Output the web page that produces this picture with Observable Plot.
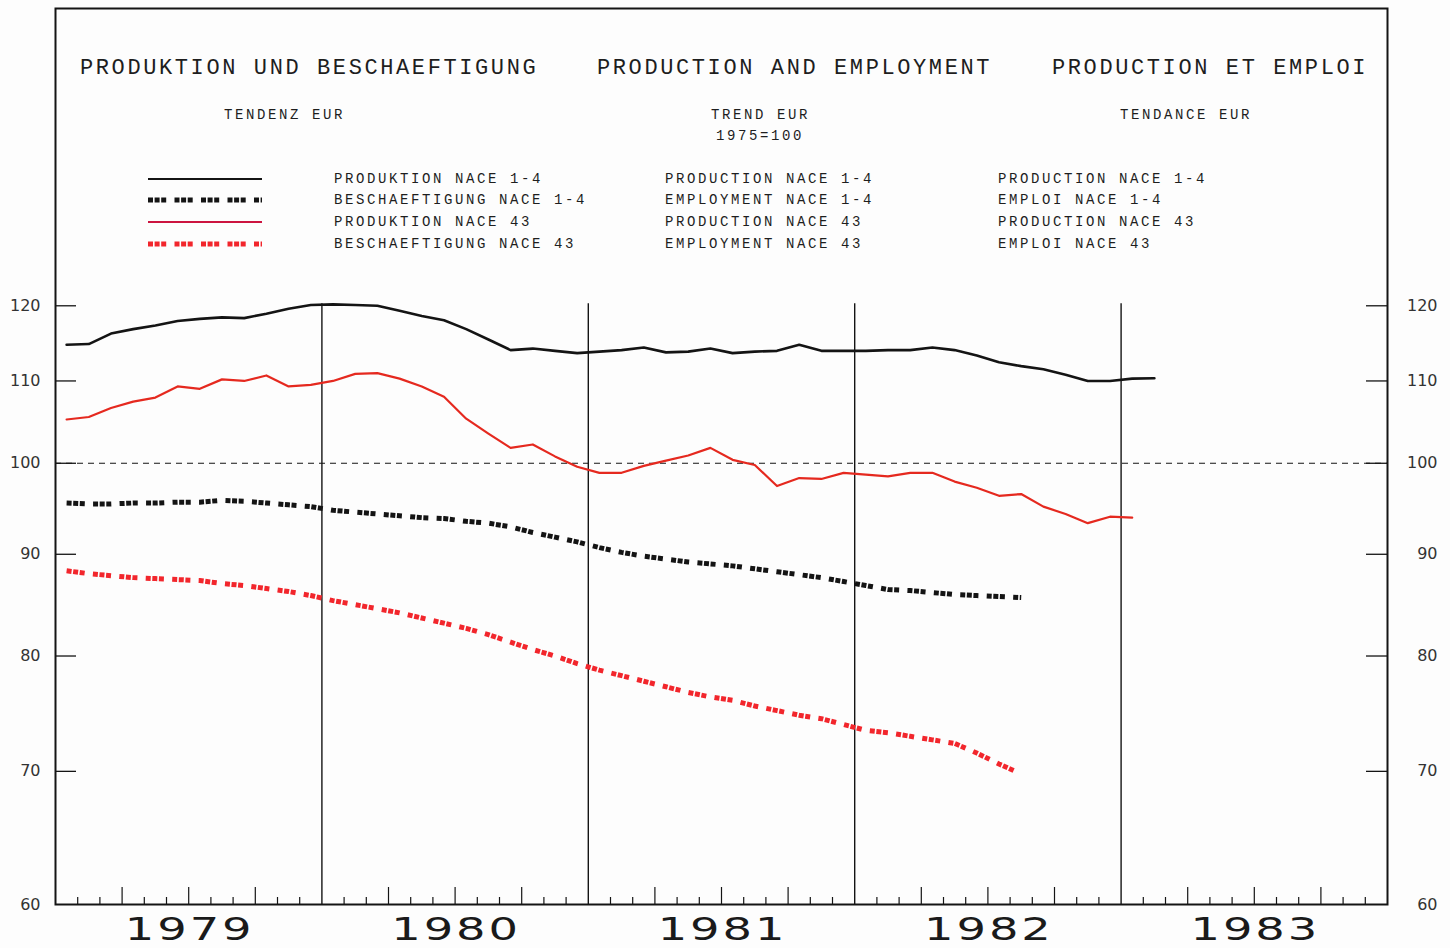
<!DOCTYPE html>
<html>
<head>
<meta charset="utf-8">
<script src="https://cdn.jsdelivr.net/npm/d3@7"></script>
<script src="https://cdn.jsdelivr.net/npm/@observablehq/plot@0.6"></script>
<style>
  html, body { margin: 0; padding: 0; background: #ffffff; }
  #wrap { position: relative; width: 1450px; height: 948px; overflow: hidden; background: #fdfdfd; }
  #chart svg { display: block; }
  .lbl { position: absolute; white-space: pre; color: #1e1e1e;
         font-family: 'Liberation Mono', 'DejaVu Sans Mono', monospace; transform: translateY(-50%); }
  .big { font-size: 22px; letter-spacing: 2.6px; line-height: 22px; }
  .small { font-size: 14px; letter-spacing: 2.6px; line-height: 14px; }
  #legend { position: absolute; left: 0; top: 0; }
</style>
</head>
<body>
<div id="wrap">
  <div id="chart"></div>
  <svg id="legend" width="1450" height="260"></svg>
</div>
<script>
// ---------------- DATA (monthly, Jan 1979 onward; 1975 = 100) ----------------
const startYear = 1979;
const yearLabels = [1979, 1980, 1981, 1982, 1983];
const yearBoundaries = [1980, 1981, 1982, 1983];
const yTicks = [60, 70, 80, 90, 100, 110, 120];

// PRODUKTION NACE 1-4 (Jan 1979 .. Feb 1983)
const prodNace14 = [
  114.7, 114.8, 116.2, 116.8, 117.3, 117.9, 118.2, 118.4, 118.3, 118.9, 119.6, 120.1,
  120.2, 120.1, 120.0, 119.3, 118.6, 118.0, 116.8, 115.4, 114.0, 114.2, 113.9, 113.6,
  113.8, 114.0, 114.35, 113.7, 113.8, 114.2, 113.6, 113.8, 113.9, 114.7, 113.9, 113.9,
  113.9, 114.0, 114.0, 114.35, 114.0, 113.3, 112.4, 111.9, 111.5, 110.8, 110.0, 110.0,
  110.3, 110.35
];
// BESCHAEFTIGUNG NACE 1-4 (Jan 1979 .. Aug 1982)
const emplNace14 = [
  95.5, 95.4, 95.4, 95.5, 95.5, 95.6, 95.6, 95.8, 95.7, 95.5, 95.3, 95.1,
  94.7, 94.5, 94.3, 94.1, 93.9, 93.8, 93.5, 93.3, 92.9, 92.3, 91.8, 91.3,
  90.7, 90.2, 89.8, 89.5, 89.2, 89.0, 88.8, 88.5, 88.2, 87.9, 87.6, 87.2,
  86.8, 86.4, 86.3, 86.1, 85.9, 85.8, 85.7, 85.6
];
// PRODUKTION NACE 43 (Jan 1979 .. Jan 1983)
const prodNace43 = [
  105.2, 105.5, 106.6, 107.4, 107.9, 109.3, 109.0, 110.2, 110.0, 110.7, 109.3, 109.5,
  110.0, 110.9, 111.0, 110.3, 109.3, 108.0, 105.3, 103.5, 101.8, 102.2, 100.8, 99.6,
  98.9, 98.9, 99.7, 100.3, 100.9, 101.8, 100.4, 99.8, 97.4, 98.3, 98.2, 98.9,
  98.7, 98.5, 98.9, 98.9, 97.9, 97.2, 96.3, 96.5, 95.1, 94.3, 93.3, 94.0,
  93.9
];
// BESCHAEFTIGUNG NACE 43 (Jan 1979 .. Aug 1982)
const emplNace43 = [
  88.3, 88.0, 87.8, 87.6, 87.5, 87.4, 87.3, 87.0, 86.8, 86.5, 86.2, 85.8,
  85.3, 84.9, 84.5, 84.1, 83.6, 83.1, 82.6, 82.0, 81.3, 80.6, 80.0, 79.3,
  78.7, 78.2, 77.7, 77.2, 76.7, 76.3, 76.0, 75.5, 75.1, 74.7, 74.4, 73.9,
  73.4, 73.2, 72.9, 72.6, 72.3, 71.5, 70.6, 69.8
];

// ---------------- helpers ----------------
const toSeries = arr => arr.map((v, i) => ({t: startYear + (i + 0.5) / 12, v}));
const monthTicks = d3.range(1, 60).filter(i => i % 12 !== 0).map(i => ({t: startYear + i / 12, q: i % 3 === 0}));

const W = 1450, H = 948;
const mL = 55, mR = 63, mT = 8, mB = 44;
const plotW = W - mL - mR, plotH = H - mT - mB;

const BLACK = "#141414";
const RED = "#e5291f";
const RED_DASH = "#f2262c";
const CRIMSON = "#cc1440";
const numFont = "'DejaVu Sans', Verdana, sans-serif";
const dashPattern = "5,1.6,5,1.6,5,8.3";

const chart = Plot.plot({
  width: W, height: H,
  marginLeft: mL, marginRight: mR, marginTop: mT, marginBottom: mB,
  style: {background: "transparent", overflow: "visible"},
  x: {domain: [startYear, 1984], axis: null},
  y: {type: "log", domain: [60, 169.3], axis: null},
  marks: [
    // reference line at 100
    Plot.ruleY([100], {stroke: BLACK, strokeWidth: 1.1, strokeDasharray: "6,5"}),
    // year boundaries
    Plot.ruleX(yearBoundaries, {y1: 60, y2: 120.3, stroke: BLACK, strokeWidth: 1.4}),
    // inward y ticks (left and right)
    Plot.tickY(yTicks.filter(d => d > 60), {y: d => d, insetRight: plotW - 21, stroke: BLACK, strokeWidth: 1.3}),
    Plot.tickY(yTicks.filter(d => d > 60), {y: d => d, insetLeft: plotW - 21, stroke: BLACK, strokeWidth: 1.3}),
    // month ticks at bottom (quarters taller)
    Plot.tickX(monthTicks.filter(d => !d.q), {x: "t", insetTop: plotH - 7, stroke: BLACK, strokeWidth: 1.2}),
    Plot.tickX(monthTicks.filter(d => d.q), {x: "t", insetTop: plotH - 17, stroke: BLACK, strokeWidth: 1.2}),
    // series
    Plot.line(toSeries(emplNace43), {x: "t", y: "v", stroke: RED_DASH, strokeWidth: 5, strokeDasharray: dashPattern, strokeLinecap: "butt"}),
    Plot.line(toSeries(emplNace14), {x: "t", y: "v", stroke: BLACK, strokeWidth: 5, strokeDasharray: dashPattern, strokeLinecap: "butt"}),
    Plot.line(toSeries(prodNace43), {x: "t", y: "v", stroke: RED, strokeWidth: 2.2}),
    Plot.line(toSeries(prodNace14), {x: "t", y: "v", stroke: BLACK, strokeWidth: 2.6}),
    // frame
    Plot.frame({stroke: BLACK, strokeWidth: 2}),
    // y tick labels left & right
    Plot.text(yTicks, {y: d => d, text: d => String(d), frameAnchor: "left", dx: -15, textAnchor: "end",
      fontSize: 16, fontFamily: numFont, fill: "#333"}),
    Plot.text(yTicks, {y: d => d, text: d => String(d), frameAnchor: "right", dx: 50, textAnchor: "end",
      fontSize: 16, fontFamily: numFont, fill: "#333"}),
    // year labels
    Plot.text(yearLabels, {x: d => d + 0.5, text: d => String(d), frameAnchor: "bottom", dy: 25, dx: 1,
      lineAnchor: "middle", fontSize: 32, fontFamily: numFont, fill: "#1a1a1a"})
  ]
});
document.getElementById("chart").appendChild(chart);
// widen the plotter-style year labels horizontally (scale about their own centre)
const yearStrings = yearLabels.map(String);
d3.select(chart).selectAll("text")
  .filter(function() { return yearStrings.includes(this.textContent); })
  .style("letter-spacing", "2px")
  .each(function() {
    const b = this.getBBox();
    const cx = b.x + b.width / 2;
    const prev = this.getAttribute("transform") || "";
    this.setAttribute("transform", `${prev} translate(${cx},0) scale(1.45,1) translate(${-cx},0)`);
  });

// ---------------- titles & legend (inside the frame) ----------------
const labels = [
  {t: "PRODUKTION UND BESCHAEFTIGUNG", x: 80, y: 69, c: "big"},
  {t: "PRODUCTION AND EMPLOYMENT", x: 597, y: 69, c: "big"},
  {t: "PRODUCTION ET EMPLOI", x: 1052, y: 69, c: "big"},
  {t: "TENDENZ EUR", x: 224, y: 115, c: "small"},
  {t: "TREND EUR", x: 711, y: 115, c: "small"},
  {t: "1975=100", x: 716, y: 136, c: "small"},
  {t: "TENDANCE EUR", x: 1120, y: 115, c: "small"}
];
const legendRows = [
  {de: "PRODUKTION NACE 1-4", en: "PRODUCTION NACE 1-4", fr: "PRODUCTION NACE 1-4", stroke: BLACK, w: 2.2, dash: null},
  {de: "BESCHAEFTIGUNG NACE 1-4", en: "EMPLOYMENT NACE 1-4", fr: "EMPLOI NACE 1-4", stroke: BLACK, w: 5, dash: dashPattern},
  {de: "PRODUKTION NACE 43", en: "PRODUCTION NACE 43", fr: "PRODUCTION NACE 43", stroke: CRIMSON, w: 2, dash: null},
  {de: "BESCHAEFTIGUNG NACE 43", en: "EMPLOYMENT NACE 43", fr: "EMPLOI NACE 43", stroke: RED_DASH, w: 5, dash: dashPattern}
];
const rowY = [179, 200, 222, 244];
legendRows.forEach((r, i) => {
  labels.push({t: r.de, x: 334, y: rowY[i], c: "small"});
  labels.push({t: r.en, x: 665, y: rowY[i], c: "small"});
  labels.push({t: r.fr, x: 998, y: rowY[i], c: "small"});
});
const wrap = document.getElementById("wrap");
labels.forEach(l => {
  const d = document.createElement("div");
  d.className = "lbl " + l.c;
  d.textContent = l.t;
  d.style.left = l.x + "px";
  d.style.top = l.y + "px";
  wrap.appendChild(d);
});
const leg = d3.select("#legend");
legendRows.forEach((r, i) => {
  const ln = leg.append("line")
    .attr("x1", 148).attr("x2", 262).attr("y1", rowY[i]).attr("y2", rowY[i])
    .attr("stroke", r.stroke).attr("stroke-width", r.w);
  if (r.dash) ln.attr("stroke-dasharray", r.dash);
});
</script>
</body>
</html>
